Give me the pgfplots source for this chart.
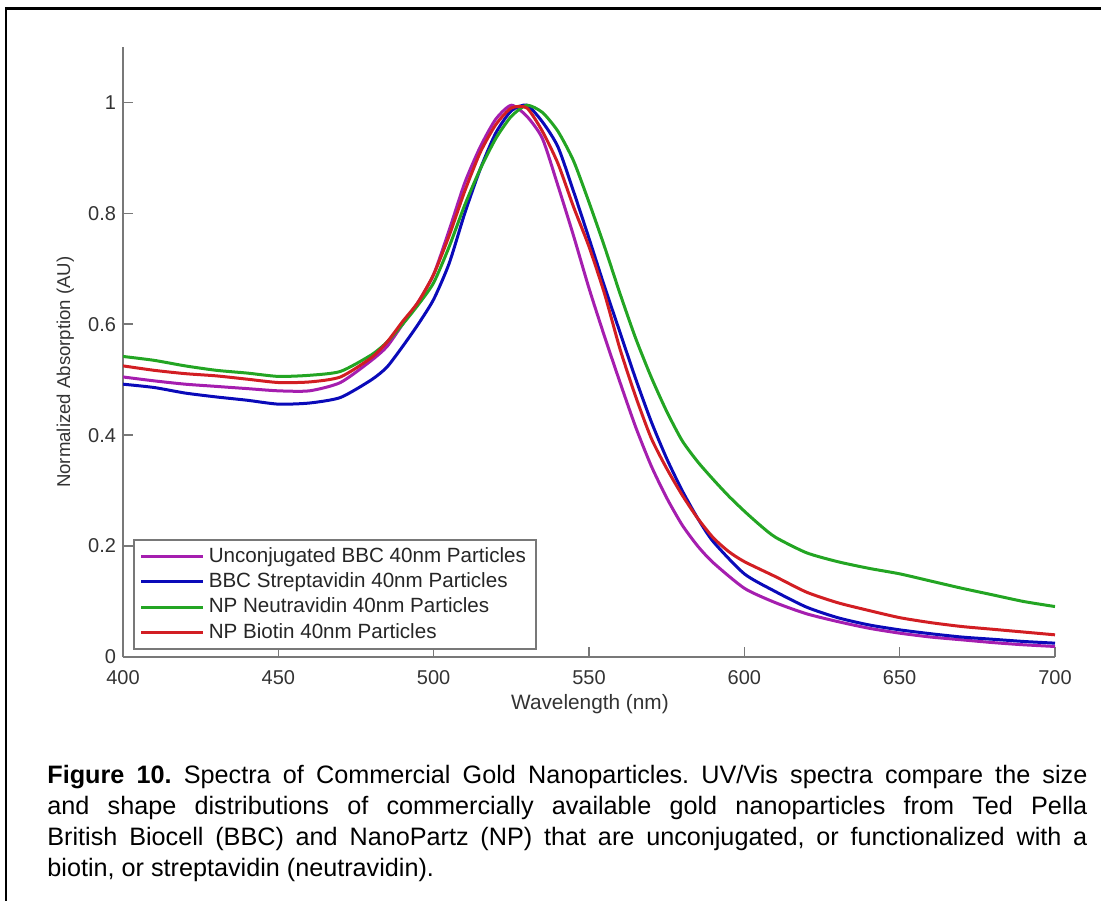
\documentclass[border=0pt]{standalone}
\usepackage{fontspec}
\setmainfont{Liberation Sans}
\usepackage{pgfplots}
\pgfplotsset{compat=1.18}
\definecolor{cpur}{RGB}{165,30,175}
\definecolor{cblu}{RGB}{10,10,185}
\definecolor{cgrn}{RGB}{35,165,35}
\definecolor{cred}{RGB}{210,30,35}
\definecolor{axgray}{RGB}{120,120,120}
\begin{document}
\frenchspacing
\begin{tikzpicture}
\useasboundingbox (0,0) rectangle (550.5pt,-450pt);
\draw[line width=1.1pt] (3pt,-460pt) -- (3pt,-4.25pt) -- (560pt,-4.25pt);
\begin{axis}[
  at={(61.5pt,-328.5pt)}, anchor=south west,
  scale only axis, width=466pt, height=305pt,
  xmin=400, xmax=700, ymin=0, ymax=1.1,
  axis x line=bottom, axis y line=left,
  axis line style={-, draw=axgray, line width=0.9pt},
  xtick={400,450,...,700}, ytick={0,0.2,0.4,0.6,0.8,1},
  tick align=inside, major tick length=5pt,
  tick style={draw=axgray, line width=0.8pt},
  /pgf/number format/assume math mode=true,
  ticklabel style={font=\fontsize{10}{12}\selectfont, text=black!80},
  xticklabel style={yshift=-3pt},
  xlabel={Wavelength (nm)}, ylabel={Normalized Absorption (AU)},
  label style={text=black!80},
  xlabel style={font=\fontsize{10.4}{12}\selectfont, at={(axis description cs:0.501,-0.077)}, anchor=center},
  ylabel style={font=\fontsize{9.3}{11}\selectfont, at={(axis description cs:-0.062,0.467)}, anchor=center},
  legend style={at={(axis description cs:0.0107,0.193)}, anchor=north west,
    draw=axgray, line width=0.8pt, font=\fontsize{10.3}{12}\selectfont,
    inner xsep=3pt, inner ysep=3pt, row sep=2.2pt,
    nodes={inner xsep=2pt, inner ysep=0pt, text height=8pt, text depth=2.5pt, text=black!85}},
  legend cell align=left,
  legend image code/.code={\draw[#1] (0pt,0pt) -- (31pt,0pt);},
  every axis plot/.append style={line width=1.5pt, smooth, tension=0.4},
]
\addplot[cpur] coordinates {
(400,0.505)(410,0.498)(420,0.492)(430,0.488)(440,0.484)(450,0.480)(460,0.480)(470,0.495)(480,0.535)(485,0.560)(490,0.600)(495,0.640)(500,0.690)(505,0.770)(510,0.855)(515,0.920)(520,0.970)(525,0.995)(530,0.975)(535,0.935)(540,0.850)(545,0.760)(550,0.665)(555,0.578)(560,0.495)(565,0.415)(570,0.345)(575,0.287)(580,0.238)(585,0.200)(590,0.170)(600,0.124)(610,0.098)(620,0.078)(630,0.064)(640,0.052)(650,0.043)(660,0.036)(670,0.031)(680,0.026)(690,0.022)(700,0.019)};
\addlegendentry{Unconjugated BBC 40nm Particles}
\addplot[cblu] coordinates {
(400,0.492)(410,0.486)(420,0.476)(430,0.469)(440,0.463)(450,0.456)(460,0.458)(470,0.468)(480,0.500)(485,0.523)(490,0.560)(495,0.600)(500,0.645)(505,0.710)(510,0.800)(515,0.880)(520,0.945)(525,0.985)(530,0.995)(535,0.965)(540,0.920)(545,0.840)(550,0.755)(555,0.668)(560,0.585)(565,0.502)(570,0.425)(575,0.358)(580,0.300)(585,0.250)(590,0.208)(600,0.150)(610,0.118)(620,0.090)(630,0.071)(640,0.058)(650,0.049)(660,0.042)(670,0.036)(680,0.032)(690,0.028)(700,0.025)};
\addlegendentry{BBC Streptavidin 40nm Particles}
\addplot[cgrn] coordinates {
(400,0.542)(410,0.535)(420,0.525)(430,0.517)(440,0.512)(450,0.506)(460,0.508)(470,0.515)(480,0.545)(485,0.568)(490,0.600)(495,0.635)(500,0.675)(505,0.740)(510,0.815)(515,0.880)(520,0.935)(525,0.975)(530,0.995)(535,0.982)(540,0.948)(545,0.895)(550,0.820)(555,0.740)(560,0.655)(565,0.575)(570,0.505)(575,0.443)(580,0.390)(585,0.352)(590,0.320)(595,0.290)(600,0.263)(605,0.238)(610,0.216)(620,0.188)(630,0.172)(640,0.160)(650,0.150)(660,0.137)(670,0.124)(680,0.112)(690,0.100)(700,0.091)};
\addlegendentry{NP Neutravidin 40nm Particles}
\addplot[cred] coordinates {
(400,0.525)(410,0.517)(420,0.511)(430,0.507)(440,0.501)(450,0.495)(460,0.496)(470,0.505)(480,0.540)(485,0.568)(490,0.605)(495,0.640)(500,0.690)(505,0.760)(510,0.840)(515,0.910)(520,0.960)(525,0.990)(530,0.990)(535,0.948)(540,0.890)(545,0.812)(550,0.740)(555,0.655)(560,0.555)(565,0.470)(570,0.395)(575,0.340)(580,0.292)(585,0.250)(590,0.215)(595,0.190)(600,0.172)(610,0.145)(620,0.117)(630,0.098)(640,0.084)(650,0.071)(660,0.062)(670,0.055)(680,0.050)(690,0.045)(700,0.040)};
\addlegendentry{NP Biotin 40nm Particles}
\end{axis}
\node[anchor=north west, inner sep=0pt, text width=520pt, align=justify,
  font=\fontsize{12.6}{15.5}\selectfont] at (23.5pt,-380.6pt)
  {\strut\textbf{Figure 10.} Spectra of Commercial Gold Nanoparticles. UV/Vis spectra compare the size\linebreak
   and shape distributions of commercially available gold nanoparticles from Ted Pella\linebreak
   British Biocell (BBC) and NanoPartz (NP) that are unconjugated, or functionalized with a\linebreak
   biotin, or streptavidin (neutravidin).};
\end{tikzpicture}
\end{document}
